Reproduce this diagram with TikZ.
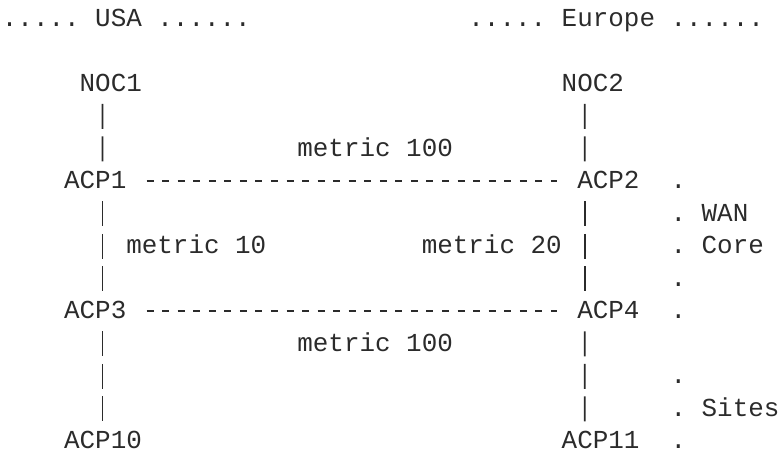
\documentclass[tikz,border=0pt]{standalone}
\usepackage{fontspec}
\setmonofont{Liberation Mono}
\definecolor{ink}{HTML}{2B2B2B}
\tikzset{
  txt/.style={anchor=base west, inner sep=0pt, text depth=0pt, text=ink},
  hbar/.style={draw=ink, line width=0.9pt, dash pattern=on 3.5pt off 4.275pt},
  vbar/.style={draw=ink, line width=0.9pt, dash pattern=on 12.5pt off 3.75pt},
}
\begin{document}
\begin{tikzpicture}[x=7.775pt, y=-16.25pt, font=\ttfamily\fontsize{12.96pt}{16.25pt}\selectfont, line cap=butt]
\useasboundingbox (-0.0965,-0.808) rectangle (50.19,13.131);
% regions
\node[txt] (usa) at (0,0) {..... USA ......};
\node[txt] (europe) at (30,0) {..... Europe ......};
% NOCs and ACP nodes
\node[txt] (NOC1) at (5,2) {NOC1};
\node[txt] (NOC2) at (36,2) {NOC2};
\node[txt] (ACP1) at (4,5) {ACP1};
\node[txt] (ACP2) at (37,5) {ACP2};
\node[txt] (ACP3) at (4,9) {ACP3};
\node[txt] (ACP4) at (37,9) {ACP4};
\node[txt] (ACP10) at (4,13) {ACP10};
\node[txt] (ACP11) at (36,13) {ACP11};
% metrics
\node[txt] (met1) at (19,4) {metric 100};
\node[txt] (met2) at (8,7) {metric 10};
\node[txt] (met3) at (27,7) {metric 20};
\node[txt] (met4) at (19,10) {metric 100};
% WAN core / sites marks
\foreach \rw/\lbl in {5/., 6/. WAN, 7/. Core, 8/., 9/., 11/., 12/. Sites, 13/.}
  \node[txt] (mark\rw) at (43,\rw) {\lbl};
% links
\draw[hbar] ([xshift=9.92pt,yshift=3.875pt]ACP1.base east) -- ([xshift=-9.92pt,yshift=3.875pt]ACP2.base west);
\draw[hbar] ([xshift=9.92pt,yshift=3.875pt]ACP3.base east) -- ([xshift=-9.92pt,yshift=3.875pt]ACP4.base west);
\draw[vbar] ([xshift=11.66pt,yshift=-6.25pt]NOC1.base west) -- ([xshift=19.44pt,yshift=13.75pt]ACP1.base west);
\draw[vbar] ([xshift=11.66pt,yshift=-6.25pt]NOC2.base west) -- ([xshift=3.89pt,yshift=13.75pt]ACP2.base west);
\draw[vbar] ([xshift=19.44pt,yshift=-6.25pt]ACP1.base west) -- ([xshift=19.44pt,yshift=13.75pt]ACP3.base west);
\draw[vbar] ([xshift=3.89pt,yshift=-6.25pt]ACP2.base west) -- ([xshift=3.89pt,yshift=13.75pt]ACP4.base west);
\draw[vbar] ([xshift=19.44pt,yshift=-6.25pt]ACP3.base west) -- ([xshift=19.44pt,yshift=13.75pt]ACP10.base west);
\draw[vbar] ([xshift=3.89pt,yshift=-6.25pt]ACP4.base west) -- ([xshift=11.66pt,yshift=13.75pt]ACP11.base west);
\end{tikzpicture}
\end{document}
